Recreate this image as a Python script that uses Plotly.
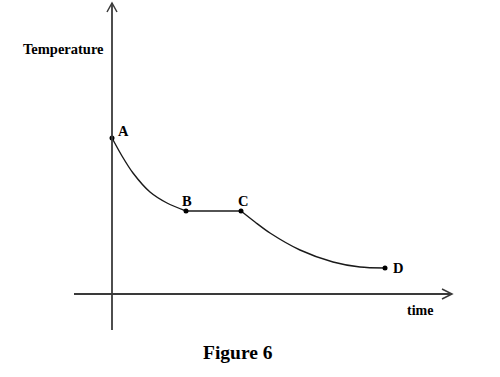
import plotly.graph_objects as go

# Coordinates: x = time units, y = temperature units (origin at axes crossing)
point_labels = ["A", "B", "C", "D"]
point_x = [0, 74, 129, 273]
point_y = [156, 83, 83, 26]

# cooling curve A -> B
ab_x = [0, 10, 21, 38, 55, 74]
ab_y = [156, 138, 121, 102, 91, 83]
# plateau B -> C
bc_x = [74, 129]
bc_y = [83, 83]
# cooling curve C -> D
cd_x = [129, 143, 158, 188, 221, 248, 273]
cd_y = [83, 72, 61, 44, 32, 27, 26]

x_label = "time"
y_label = "Temperature"
caption = "Figure 6"

FONT = "Liberation Serif"
fig = go.Figure()

line_style = dict(color="#1a1a1a", width=1.4)
fig.add_trace(go.Scatter(x=ab_x, y=ab_y, mode="lines", line=dict(shape="spline", smoothing=0.8, **line_style), hoverinfo="skip"))
fig.add_trace(go.Scatter(x=bc_x, y=bc_y, mode="lines", line=line_style, hoverinfo="skip"))
fig.add_trace(go.Scatter(x=cd_x, y=cd_y, mode="lines", line=dict(shape="spline", smoothing=0.8, **line_style), hoverinfo="skip"))
fig.add_trace(go.Scatter(x=point_x, y=point_y, mode="markers", marker=dict(color="black", size=5), hoverinfo="skip"))

axis_color = "#3a3a3a"
# axes lines
fig.add_shape(type="line", x0=0, x1=0, y0=-36, y1=291, line=dict(color=axis_color, width=1.8))
fig.add_shape(type="line", x0=-38, x1=340, y0=0, y1=0, line=dict(color=axis_color, width=1.8))
# arrow heads (open chevrons)
fig.add_shape(type="path", path="M -5,282 L 0,291 L 5,282", line=dict(color=axis_color, width=1.5))
fig.add_shape(type="path", path="M 330,5 L 340,0 L 330,-5", line=dict(color=axis_color, width=1.5))

# point labels
label_offsets = {"A": (11, 7), "B": (1, 10), "C": (2, 10), "D": (13, 0)}
for lab, px, py in zip(point_labels, point_x, point_y):
    dx, dy = label_offsets[lab]
    fig.add_annotation(x=px + dx, y=py + dy, text=f"<b>{lab}</b>", showarrow=False,
                       font=dict(family=FONT, size=14.5, color="black"), xanchor="center", yanchor="middle")

fig.add_annotation(x=-6, y=245, text=f"<b>{y_label}</b>", showarrow=False,
                   font=dict(family=FONT, size=14.5, color="black"), xanchor="right", yanchor="middle")
fig.add_annotation(x=308, y=-16, text=f"<b>{x_label}</b>", showarrow=False,
                   font=dict(family=FONT, size=14, color="black"), xanchor="center", yanchor="middle")
fig.add_annotation(x=126, y=-58, text=f"<b>{caption}</b>", showarrow=False,
                   font=dict(family=FONT, size=19.5, color="black"), xanchor="center", yanchor="middle")

fig.update_layout(
    width=500, height=377,
    margin=dict(l=0, r=0, t=0, b=0),
    paper_bgcolor="white", plot_bgcolor="white",
    showlegend=False,
    xaxis=dict(range=[-112, 388], visible=False, fixedrange=True),
    yaxis=dict(range=[-83, 294], visible=False, fixedrange=True),
)

fig.write_html("out.html", config={"displayModeBar": False, "staticPlot": True},
               post_script="document.body.style.margin='0px';document.body.style.overflow='hidden';")
